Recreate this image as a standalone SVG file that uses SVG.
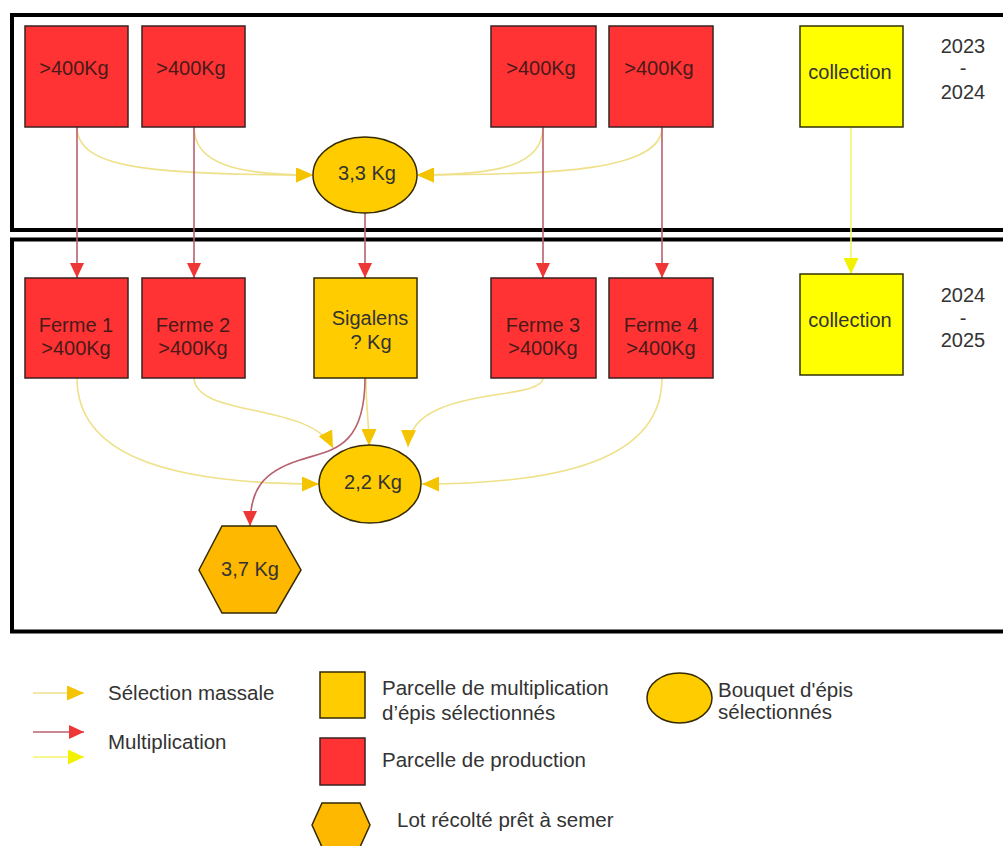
<svg xmlns="http://www.w3.org/2000/svg" width="1003" height="846" viewBox="0 0 1003 846">
<style>
text{font-family:"Liberation Sans",Arial,sans-serif;font-size:20px;fill:#333;}
.c{text-anchor:middle;}
.rt{fill:#4a1a1a;}
.lg{font-size:20.5px;}
.red{fill:#ff3333;stroke:#3a2222;stroke-width:1.5;}
.org{fill:#ffcc00;stroke:#332a00;stroke-width:1.5;}
.hex{fill:#ffb800;stroke:#332a00;stroke-width:1.5;}
.yel{fill:#ffff00;stroke:#333300;stroke-width:1.5;}
.frame{fill:none;stroke:#000;stroke-width:4;}
.sel{fill:none;stroke:#efe08a;stroke-width:1.6;marker-end:url(#mGold);}
.mul{fill:none;stroke:#b8606e;stroke-width:1.6;marker-end:url(#mRed);}
.col{fill:none;stroke:#f6f66a;stroke-width:1.6;marker-end:url(#mYel);}
</style>
<defs>
<marker id="mGold" markerUnits="userSpaceOnUse" markerWidth="17" markerHeight="15" refX="17" refY="7.5" orient="auto"><path d="M0,0 L17,7.5 L0,15 z" fill="#f5c400"/></marker>
<marker id="mRed" markerUnits="userSpaceOnUse" markerWidth="15" markerHeight="14" refX="15" refY="7" orient="auto"><path d="M0,0 L15,7 L0,14 z" fill="#ee3636"/></marker>
<marker id="mYel" markerUnits="userSpaceOnUse" markerWidth="16" markerHeight="15" refX="16" refY="7.5" orient="auto"><path d="M0,0 L16,7.5 L0,15 z" fill="#f2f200"/></marker>
</defs>
<rect width="1003" height="846" fill="#fff"/>
<g id="frames">
<rect class="frame" x="12" y="15" width="1010" height="215"/>
<rect class="frame" x="12" y="239.5" width="1010" height="392"/>
</g>
<g id="connectors">
<path class="sel" d="M77,127 C77,168 150,175 313,175"/>
<path class="sel" d="M194,127 C194,165 240,175 313,175"/>
<path class="sel" d="M543,127 C543,165 500,175 417,175"/>
<path class="sel" d="M662,127 C662,170 560,175 417,175"/>
<path class="mul" d="M77,127 L77,278"/>
<path class="mul" d="M194,127 L194,278"/>
<path class="mul" d="M365,213 L365,278"/>
<path class="mul" d="M543,127 L543,278"/>
<path class="mul" d="M662,127 L662,278"/>
<path class="col" d="M851,127 L851,274"/>
<path class="sel" d="M77,378 C77,452 160,484 319,484"/>
<path class="sel" d="M194,378 C196,418 310,402 333,448"/>
<path class="sel" d="M366,378 C366,410 369,420 369,446"/>
<path class="sel" d="M543,378 C543,402 410,385 408,447"/>
<path class="sel" d="M662,378 C662,460 560,484 422,484"/>
<path class="mul" d="M365,378 C365,450 330,450 300,460 C262,472 250,490 250,526"/>
</g>
<g id="n1"><rect class="red" x="25" y="26" width="103" height="101"/><text class="c rt" x="74" y="75">&gt;400Kg</text></g>
<g id="n2"><rect class="red" x="142" y="26" width="103" height="101"/><text class="c rt" x="191" y="75">&gt;400Kg</text></g>
<g id="n3"><rect class="red" x="491" y="26" width="105" height="101"/><text class="c rt" x="541" y="75">&gt;400Kg</text></g>
<g id="n4"><rect class="red" x="609" y="26" width="104" height="101"/><text class="c rt" x="659" y="75">&gt;400Kg</text></g>
<g id="n5"><rect class="yel" x="800" y="26" width="103" height="101"/><text class="c" x="850" y="79">collection</text></g>
<g id="y1"><text class="c" x="963" y="53">2023</text><text class="c" x="963" y="75">-</text><text class="c" x="963" y="99">2024</text></g>
<g id="e1"><ellipse class="org" cx="365" cy="175" rx="52" ry="38"/><text class="c" x="367" y="180">3,3 Kg</text></g>
<g id="f1"><rect class="red" x="25" y="278" width="103" height="100"/><text class="c rt" x="76" y="332">Ferme 1</text><text class="c rt" x="76" y="355">&gt;400Kg</text></g>
<g id="f2"><rect class="red" x="142" y="278" width="103" height="100"/><text class="c rt" x="193" y="332">Ferme 2</text><text class="c rt" x="193" y="355">&gt;400Kg</text></g>
<g id="sg"><rect class="org" x="314" y="278" width="103" height="100"/><text class="c" x="370" y="325">Sigalens</text><text class="c" x="371" y="349">? Kg</text></g>
<g id="f3"><rect class="red" x="491" y="278" width="105" height="100"/><text class="c rt" x="543" y="332">Ferme 3</text><text class="c rt" x="543" y="355">&gt;400Kg</text></g>
<g id="f4"><rect class="red" x="609" y="278" width="104" height="100"/><text class="c rt" x="661" y="332">Ferme 4</text><text class="c rt" x="661" y="355">&gt;400Kg</text></g>
<g id="c2"><rect class="yel" x="800" y="274" width="103" height="101"/><text class="c" x="850" y="327">collection</text></g>
<g id="y2"><text class="c" x="963" y="302">2024</text><text class="c" x="963" y="325">-</text><text class="c" x="963" y="347">2025</text></g>
<g id="e2"><ellipse class="org" cx="370" cy="484" rx="51" ry="39"/><text class="c" x="373" y="489">2,2 Kg</text></g>
<g id="hx"><polygon class="hex" points="199,570 222,526 276,526 301,570 276,613 222,613"/><text class="c" x="250" y="576">3,7 Kg</text></g>
<g id="legend">
<path fill="none" stroke="#efe08a" stroke-width="1.6" d="M33,693 L84,693" marker-end="url(#mGold)"/>
<text class="lg" x="108" y="700">Sélection massale</text>
<path fill="none" stroke="#b8606e" stroke-width="1.6" d="M33,732 L84,732" marker-end="url(#mRed)"/>
<text class="lg" x="108" y="749">Multiplication</text>
<path fill="none" stroke="#f6f66a" stroke-width="1.6" d="M33,757 L84,757" marker-end="url(#mYel)"/>
<rect class="org" x="320" y="672" width="45" height="46"/>
<text class="lg" x="382" y="695">Parcelle de multiplication</text>
<text class="lg" x="382" y="720">d’épis sélectionnés</text>
<rect class="red" x="320" y="738" width="45" height="47"/>
<text class="lg" x="382" y="767">Parcelle de production</text>
<polygon class="hex" points="312,825 322,803 360,803 370,825 360,847 322,847"/>
<text class="lg" x="397" y="827">Lot récolté prêt à semer</text>
<ellipse class="org" cx="679.5" cy="698" rx="32.5" ry="25"/>
<text class="lg" x="718" y="697">Bouquet d'épis</text>
<text class="lg" x="718" y="719">sélectionnés</text>
</g>
</svg>
